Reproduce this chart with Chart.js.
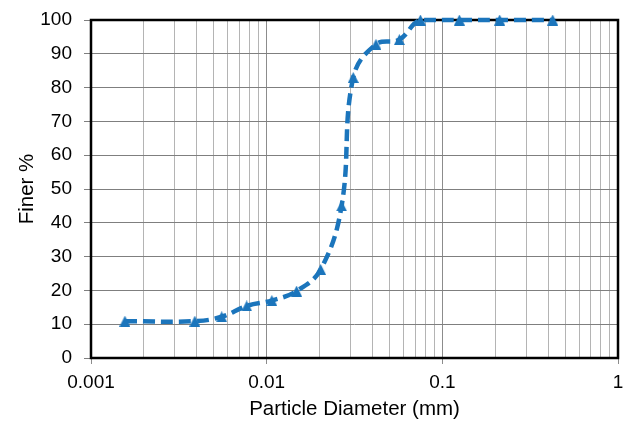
<!DOCTYPE html>
<html>
<head>
<meta charset="utf-8">
<script src="https://cdn.jsdelivr.net/npm/chart.js@4/dist/chart.umd.min.js"></script>
<style>
  html, body { margin: 0; padding: 0; background: #ffffff; }
  #wrap { width: 630px; height: 424px; }
</style>
</head>
<body>
<div id="wrap"><canvas id="grain" width="630" height="424"></canvas></div>
<script>
// Particle size distribution (hydrometer + sieve)
const diameterMm = [0.00156, 0.0039, 0.00555, 0.0077, 0.0107, 0.0148, 0.0203, 0.0267,
                    0.0311, 0.0419, 0.0569, 0.075, 0.125, 0.212, 0.425];
const finerPct   = [10.9, 10.9, 12.2, 15.4, 17.0, 19.8, 26.2, 45.0,
                    83.0, 92.8, 94.2, 100, 100, 100, 100];
const xTickLabels = ['0.001', '0.01', '0.1', '1'];
const yTickValues = [0, 10, 20, 30, 40, 50, 60, 70, 80, 90, 100];

const FONT = "'Liberation Sans', Arial, sans-serif";
const BLUE = '#1B75BC';

function isDecade(v) {
  const l = Math.log10(v);
  return Math.abs(l - Math.round(l)) < 1e-9;
}

// Triangle marker centred on its bounding box
function triangleMarker(w, h, color) {
  const c = document.createElement('canvas');
  c.width = w; c.height = h;
  const g = c.getContext('2d');
  g.fillStyle = color;
  g.beginPath();
  g.moveTo(w / 2, 0);
  g.lineTo(w, h);
  g.lineTo(0, h);
  g.closePath();
  g.fill();
  return c;
}

// Black frame round the plot area
const framePlugin = {
  id: 'frame',
  beforeDatasetsDraw(chart) {
    const { ctx, chartArea: a } = chart;
    ctx.save();
    ctx.strokeStyle = '#000000';
    ctx.lineWidth = 2.5;
    ctx.strokeRect(a.left, a.top, a.right - a.left, a.bottom - a.top);
    ctx.restore();
  }
};

new Chart(document.getElementById('grain'), {
  type: 'scatter',
  data: {
    datasets: [{
      data: diameterMm.map((d, i) => ({ x: d, y: finerPct[i] })),
      showLine: true,
      borderColor: BLUE,
      backgroundColor: BLUE,
      borderWidth: 4.5,
      borderDash: [12, 6],
      tension: 0.4,
      pointStyle: triangleMarker(11, 11, BLUE),
      pointRadius: 6,
      clip: false
    }]
  },
  options: {
    responsive: false,
    animation: false,
    layout: { padding: { left: 0, right: 12, top: 20, bottom: 0 } },
    plugins: { legend: { display: false }, tooltip: { enabled: false } },
    scales: {
      x: {
        type: 'logarithmic',
        min: 0.001,
        max: 1,
        afterBuildTicks(scale) {
          const ticks = [];
          for (let e = -3; e < 0; e++) {
            for (let m = 1; m <= 9; m++) ticks.push({ value: m * Math.pow(10, e) });
          }
          ticks.push({ value: 1 });
          scale.ticks = ticks;
        },
        afterFit(scale) {
          scale.height = 66;
          scale.paddingLeft = 0;
          scale.paddingRight = 0;
        },
        border: { display: false },
        grid: {
          color: c => isDecade(c.tick.value) ? '#8c8c8c' : '#b4b4b4',
          tickColor: c => isDecade(c.tick.value) ? '#8c8c8c' : 'rgba(0,0,0,0)',
          lineWidth: 1,
          tickLength: 6
        },
        ticks: {
          autoSkip: false,
          maxRotation: 0,
          padding: 7,
          color: '#000000',
          font: { family: FONT, size: 19 },
          callback(v) {
            if (!isDecade(v)) return '';
            return xTickLabels[Math.round(Math.log10(v)) + 3];
          }
        },
        title: {
          display: true,
          text: 'Particle Diameter (mm)',
          color: '#000000',
          font: { family: FONT, size: 20.5, lineHeight: 1.2 },
          padding: { top: 0, bottom: 2 }
        }
      },
      y: {
        min: 0,
        max: 100,
        afterBuildTicks(scale) { scale.ticks = yTickValues.map(v => ({ value: v })); },
        afterFit(scale) {
          scale.width = 91;
          scale.paddingTop = 0;
          scale.paddingBottom = 0;
        },
        border: { display: false },
        grid: { color: '#7f7f7f', lineWidth: 1, tickLength: 7 },
        ticks: {
          padding: 12,
          color: '#000000',
          font: { family: FONT, size: 19 }
        },
        title: {
          display: true,
          text: 'Finer %',
          color: '#000000',
          font: { family: FONT, size: 20.5, lineHeight: 1.2 },
          padding: { top: 15, bottom: 0 }
        }
      }
    }
  },
  plugins: [framePlugin]
});
</script>
</body>
</html>
